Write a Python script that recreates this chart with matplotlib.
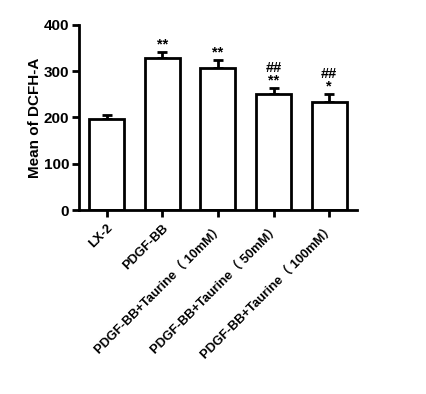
import matplotlib
matplotlib.use('Agg')
import matplotlib.pyplot as plt

plt.rcParams['font.family'] = ['Liberation Sans', 'Noto Sans CJK SC']
plt.rcParams['font.weight'] = 'bold'

grupos = ['LX-2', 'PDGF-BB', 'PDGF-BB+Taurine（ 10mM）',
          'PDGF-BB+Taurine（ 50mM）', 'PDGF-BB+Taurine（ 100mM）']
medias = [197, 329, 306, 250, 234]
errores = [9, 12, 18, 14, 16]
marcas = ['', '**', '**', '##\n**', '##\n*']

fig = plt.figure(figsize=(4.26, 3.94), dpi=100)
ax = fig.add_axes([0.185, 0.467, 0.653, 0.47])

x = list(range(len(grupos)))
ax.bar(x, medias, width=0.63, color='white', edgecolor='black', linewidth=2, zorder=2)
ax.errorbar(x, medias, yerr=[[0] * len(errores), errores], fmt='none',
            ecolor='black', elinewidth=2, capsize=3.6, capthick=2, zorder=1)

for xi, m, e, t in zip(x, medias, errores, marcas):
    if t:
        ax.text(xi, m + e + 1, t, ha='center', va='bottom', fontsize=10.5,
                linespacing=0.85)

ax.set_xlim(-0.5, 4.5)
ax.set_ylim(0, 400)
ax.set_yticks([0, 100, 200, 300, 400])
ax.set_xticks(x)
ax.set_xticklabels(grupos, rotation=45, ha='right', rotation_mode='anchor', fontsize=9.3)
ax.set_ylabel('Mean of DCFH-A', fontsize=11, fontweight='bold', labelpad=1)
ax.tick_params(axis='both', width=2, length=5)
ax.tick_params(axis='y', labelsize=11, pad=2)
for lab in ax.get_yticklabels():
    lab.set_fontweight('bold')
for lado in ['top', 'right']:
    ax.spines[lado].set_visible(False)
for lado in ['left', 'bottom']:
    ax.spines[lado].set_linewidth(2)

fig.savefig('out.png', dpi=100)
